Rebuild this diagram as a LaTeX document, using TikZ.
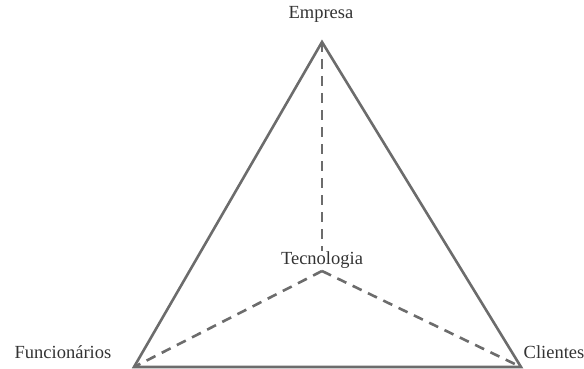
\documentclass[tikz,border=0pt]{standalone}
\usepackage{fontspec}
\setmainfont{Liberation Serif}
\usepackage{tikz}

\begin{document}
\begin{tikzpicture}[x=1pt,y=-1pt,
    lado/.style={draw=gray!85!black,line width=2.6pt},
    eixo/.style={draw=gray!85!black,line width=2.6pt,dash pattern=on 10pt off 7pt},
    rotulo/.style={font=\fontsize{18.5}{20}\selectfont,text=black!80,inner sep=0pt}]
      \useasboundingbox (0,0) rectangle (584,369);
      % vertices
      \coordinate (topo) at (322,42);
      \coordinate (esq) at (134,367);
      \coordinate (dir) at (521,367);
      \coordinate (centro) at (322,271);
      \draw[lado] (esq) -- (topo) -- (dir) -- cycle;
      \node[rotulo] (empresa) at (321,14) {Empresa};
      \node[rotulo] (tecnologia) at (322,260) {Tecnologia};
      \node[rotulo] (funcionarios) at (63,352) {Funcionários};
      \node[rotulo] (clientes) at (554,352) {Clientes};
      \draw[eixo] (topo) -- (tecnologia.north);
      \draw[eixo] (centro) -- (esq);
      \draw[eixo] (centro) -- (dir);
    \end{tikzpicture}
\end{document}
